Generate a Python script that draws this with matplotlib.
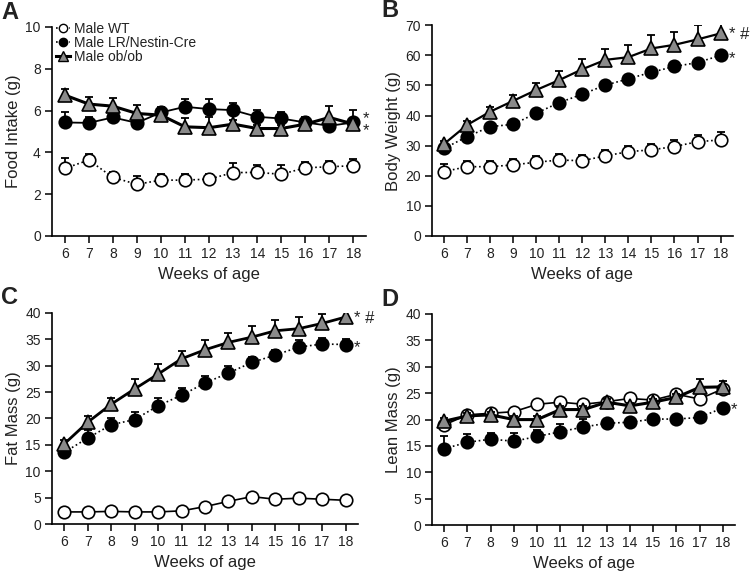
import matplotlib
matplotlib.use("Agg")
import matplotlib.pyplot as plt
from matplotlib.lines import Line2D
import numpy as np

plt.rcParams['font.family'] = ['Liberation Sans', 'DejaVu Sans']

weeks = [6, 7, 8, 9, 10, 11, 12, 13, 14, 15, 16, 17, 18]

# A - food intake (g)
food_wt = [3.23, 3.63, 2.8, 2.47, 2.67, 2.67, 2.72, 3.03, 3.04, 2.95, 3.26, 3.31, 3.36]
food_wt_err = [0.48, 0.29, 0.24, 0.4, 0.29, 0.29, 0.24, 0.44, 0.35, 0.44, 0.26, 0.27, 0.3]
food_lr = [5.43, 5.41, 5.67, 5.41, 5.91, 6.18, 6.07, 6.02, 5.7, 5.62, 5.43, 5.27, 5.43]
food_lr_err = [0.5, 0.28, 0.35, 0.2, 0.25, 0.35, 0.5, 0.32, 0.35, 0.3, 0.27, 0.2, 0.6]
food_ob = [6.74, 6.31, 6.21, 5.86, 5.78, 5.22, 5.18, 5.35, 5.14, 5.14, 5.35, 5.67, 5.35]
food_ob_err = [0.3, 0.35, 0.37, 0.4, 0.2, 0.4, 0.52, 0.2, 0.15, 0.15, 0.2, 0.54, 0.3]

# B - body weight (g)
bw_wt = [21.4, 23.0, 23.0, 23.6, 24.5, 25.2, 25.0, 26.6, 28.0, 28.6, 29.7, 31.3, 31.9]
bw_wt_err = [2.4, 2.0, 2.0, 2.0, 2.1, 1.9, 1.9, 1.8, 2.0, 1.9, 2.2, 2.2, 2.5]
bw_lr = [29.1, 33.0, 36.3, 37.1, 40.8, 44.3, 47.1, 50.1, 52.2, 54.4, 56.3, 57.6, 60.0]
bw_lr_err = [1.5, 1.8, 1.5, 1.5, 1.6, 1.6, 1.6, 1.6, 1.6, 1.6, 1.6, 1.5, 1.5]
bw_ob = [30.6, 36.9, 41.3, 44.9, 48.5, 51.8, 55.4, 58.5, 59.4, 62.3, 63.5, 65.3, 67.3]
bw_ob_err = [1.0, 1.2, 1.5, 2.0, 2.4, 3.0, 3.3, 3.7, 3.9, 4.5, 4.2, 4.8, 4.1]

# C - fat mass (g)
fat_wt = [2.3, 2.3, 2.4, 2.3, 2.3, 2.5, 3.3, 4.3, 5.2, 4.7, 4.9, 4.7, 4.5]
fat_wt_err = [0.9, 0.9, 0.9, 0.9, 0.9, 0.9, 0.9, 0.9, 0.9, 0.9, 0.9, 0.9, 0.9]
fat_lr = [13.6, 16.3, 18.8, 19.8, 22.4, 24.4, 26.7, 28.6, 30.6, 32.0, 33.5, 34.1, 34.0]
fat_lr_err = [0.8, 1.5, 1.2, 1.4, 1.5, 1.3, 1.4, 1.3, 1.0, 1.0, 1.3, 1.1, 1.1]
fat_ob = [15.2, 19.3, 22.7, 25.6, 28.4, 31.3, 33.0, 34.4, 35.4, 36.6, 37.0, 38.0, 39.2]
fat_ob_err = [0.8, 1.1, 1.1, 1.8, 2.0, 1.4, 1.8, 1.7, 2.2, 2.1, 2.2, 1.8, 1.4]

# D - lean mass (g)
lean_wt = [19.0, 20.9, 21.2, 21.5, 22.9, 23.3, 22.9, 23.4, 24.0, 23.7, 24.8, 23.9, 25.8]
lean_wt_err = [0.5, 0.5, 0.5, 0.5, 0.5, 0.5, 0.5, 0.5, 0.5, 0.5, 0.5, 0.5, 0.5]
lean_lr = [14.5, 15.7, 16.3, 15.9, 16.8, 17.7, 18.6, 19.3, 19.5, 20.1, 20.1, 20.4, 22.2]
lean_lr_err = [2.3, 1.6, 1.1, 1.6, 1.2, 1.5, 1.5, 0.6, 0.6, 0.6, 0.6, 0.6, 0.6]
lean_ob = [19.7, 20.7, 20.9, 20.0, 20.0, 21.9, 21.9, 23.3, 22.6, 23.3, 24.2, 26.1, 26.2]
lean_ob_err = [0.6, 0.6, 0.6, 0.6, 0.6, 0.6, 0.6, 0.6, 0.6, 0.6, 0.6, 1.6, 1.1]

labels = ['Male WT', 'Male LR/Nestin-Cre', 'Male ob/ob']

fig = plt.figure(figsize=(7.5, 5.74), dpi=100)

boxes = {
    'A': [0.0693, 0.589, 0.419, 0.364],
    'B': [0.576, 0.589, 0.401, 0.367],
    'C': [0.0693, 0.087, 0.408, 0.368],
    'D': [0.576, 0.085, 0.404, 0.368],
}
ylims = {'A': (0, 10, 2), 'B': (0, 70, 10), 'C': (0, 40, 5), 'D': (0, 40, 5)}
ylabels = {'A': 'Food Intake (g)', 'B': 'Body Weight (g)', 'C': 'Fat Mass (g)', 'D': 'Lean Mass (g)'}

dark = '#222222'
tri_gray = '#8a8a8a'


def series(ax, y, err, up, style, marker, face, lw, ms, z):
    y = np.array(y)
    err = np.array(err)
    if up:
        yerr = [np.zeros_like(err), err]
    else:
        yerr = [err, np.zeros_like(err)]
    ax.errorbar(weeks, y, yerr=yerr, fmt='none', ecolor='black', elinewidth=1.3,
                capsize=3.2, capthick=1.3, zorder=z)
    ax.plot(weeks, y, linestyle=style, color='black', lw=lw, zorder=z + 0.5)
    ax.plot(weeks, y, linestyle='none', marker=marker, ms=ms, mfc=face,
            mec='black', mew=1.2, zorder=z + 1)


panels = {
    'A': [(food_wt, food_wt_err, True, ':', 1.2),
          (food_lr, food_lr_err, True, '-', 1.3),
          (food_ob, food_ob_err, True, '-', 2.2)],
    'B': [(bw_wt, bw_wt_err, True, ':', 1.2),
          (bw_lr, bw_lr_err, False, ':', 1.2),
          (bw_ob, bw_ob_err, True, '-', 1.6)],
    'C': [(fat_wt, fat_wt_err, False, '-', 1.2),
          (fat_lr, fat_lr_err, True, ':', 1.2),
          (fat_ob, fat_ob_err, True, '-', 2.0)],
    'D': [(lean_wt, lean_wt_err, True, '-', 1.2),
          (lean_lr, lean_lr_err, True, ':', 1.2),
          (lean_ob, lean_ob_err, True, '-', 2.2)],
}

marks = [('o', 'white', 9), ('o', 'black', 9), ('^', tri_gray, 9.5)]

axes = {}
for key, box in boxes.items():
    ax = fig.add_axes(box)
    axes[key] = ax
    for i, (y, err, up, style, lw) in enumerate(panels[key]):
        m, face, ms = marks[i]
        series(ax, y, err, up, style, m, face, lw, ms, 2 + i * 2)
    lo, hi, step = ylims[key]
    ax.set_ylim(lo, hi)
    ax.set_yticks(np.arange(lo, hi + step / 2, step))
    ax.set_xlim(5.47, 18.53)
    ax.set_xticks(weeks)
    for s in ['top', 'right']:
        ax.spines[s].set_visible(False)
    for s in ['left', 'bottom']:
        ax.spines[s].set_linewidth(1.2)
        ax.spines[s].set_color('black')
    ax.tick_params(direction='out', length=5, width=1.1, labelsize=10,
                   labelcolor=dark, pad=3)
    ax.set_xlabel('Weeks of age', fontsize=12, color=dark, labelpad=4)
    ax.set_ylabel(ylabels[key], fontsize=12, color=dark, labelpad=3)
    fig.text(box[0] - 0.068, box[1] + box[3] + 0.026, key, fontsize=17,
             fontweight='bold', color=dark, va='center', ha='left')

# significance marks
star = dict(fontsize=12, color=dark, va='center', ha='left', clip_on=False)
axes['A'].text(18.38, 5.35, '*\n*', linespacing=0.75, **star)
axes['B'].text(18.35, 67.0, '* #', **star)
axes['B'].text(18.35, 59.0, '*', **star)
axes['C'].text(18.35, 39.0, '* #', **star)
axes['C'].text(18.35, 33.5, '*', **star)
axes['D'].text(18.35, 21.8, '*', **star)

handles = [
    Line2D([], [], color='black', ls=':', lw=1.2, marker='o', mfc='white', mec='black', ms=6),
    Line2D([], [], color='black', ls=':', lw=1.2, marker='o', mfc='black', mec='black', ms=6),
    Line2D([], [], color='black', ls='-', lw=2.2, marker='^', mfc=tri_gray, mec='black', ms=7),
]
leg = axes['A'].legend(handles, labels, loc='upper left', bbox_to_anchor=(-0.005, 1.05),
                       frameon=False, fontsize=10, handlelength=1.0, handletextpad=0.3,
                       labelspacing=0.0, borderaxespad=0)
for t in leg.get_texts():
    t.set_color(dark)

fig.savefig('out.png', dpi=100)
